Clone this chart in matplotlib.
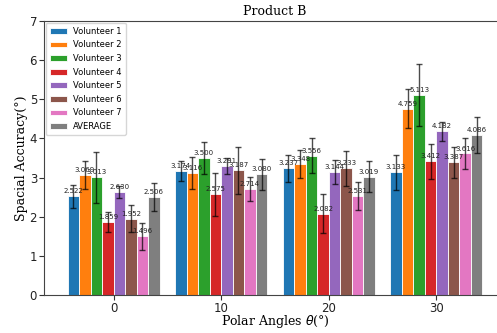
import numpy as np
import matplotlib
matplotlib.use('Agg')
import matplotlib.pyplot as plt

# === DATA ===
angles = ['0', '10', '20', '30']
series = ['Volunteer 1', 'Volunteer 2', 'Volunteer 3', 'Volunteer 4',
          'Volunteer 5', 'Volunteer 6', 'Volunteer 7', 'AVERAGE']

v1 = [2.522, 3.174, 3.237, 3.133]
v2 = [3.069, 3.116, 3.348, 4.759]
v3 = [3.013, 3.500, 3.556, 5.113]
v4 = [1.859, 2.575, 2.082, 3.412]
v5 = [2.630, 3.291, 3.144, 4.182]
v6 = [1.952, 3.187, 3.233, 3.387]
v7 = [1.496, 2.714, 2.531, 3.616]
avg = [2.506, 3.080, 3.019, 4.086]

e1 = [0.30, 0.25, 0.35, 0.45]
e2 = [0.35, 0.40, 0.35, 0.50]
e3 = [0.65, 0.40, 0.45, 0.80]
e4 = [0.25, 0.55, 0.50, 0.45]
e5 = [0.15, 0.20, 0.30, 0.25]
e6 = [0.35, 0.60, 0.45, 0.40]
e7 = [0.35, 0.30, 0.35, 0.40]
e_avg = [0.35, 0.40, 0.40, 0.45]

values = [v1, v2, v3, v4, v5, v6, v7, avg]
errors = [e1, e2, e3, e4, e5, e6, e7, e_avg]
colors = ['#1f77b4', '#ff7f0e', '#2ca02c', '#d62728',
          '#9467bd', '#8c564b', '#e377c2', '#7f7f7f']

# === PLOT ===
fig = plt.figure(figsize=(4.97, 3.33), dpi=100)
ax = fig.add_axes([44 / 497, 38 / 333, 462 / 497, 274 / 333])

x = np.arange(len(angles))
slot = 0.107
for i, (vals, errs) in enumerate(zip(values, errors)):
    pos = x + (i - 3.5) * slot
    ax.bar(pos, vals, width=slot, color=colors[i], edgecolor='white',
           linewidth=0.6, label=series[i],
           yerr=errs, capsize=2, error_kw=dict(ecolor='black', alpha=0.7, elinewidth=1))
    for px, v in zip(pos, vals):
        ax.text(px, v + 0.05, f"{v:.3f}", ha='center', va='bottom',
                fontsize=5, color='#222222')

ax.set_xlim(-0.648, 3.648)
ax.set_ylim(0, 7)
ax.set_xticks(x)
ax.set_xticklabels(angles)
ax.tick_params(labelsize=8.5, pad=1.5, colors='#333333', labelcolor='#222222')
for s in ax.spines.values():
    s.set_color('#444444')

ax.set_title('Product B', family='DejaVu Serif', fontsize=9, pad=4)
ax.set_ylabel('Spacial Accuracy(°)', family='DejaVu Serif', fontsize=9, labelpad=1)
ax.set_xlabel(r'Polar Angles $\theta$(°)', family='DejaVu Serif', fontsize=9, labelpad=-1.5)

ax.legend(loc='upper left', fontsize=6, handlelength=2.0, borderpad=0.5,
          labelspacing=0.55, borderaxespad=0.2)

fig.savefig('out.png', dpi=100)
